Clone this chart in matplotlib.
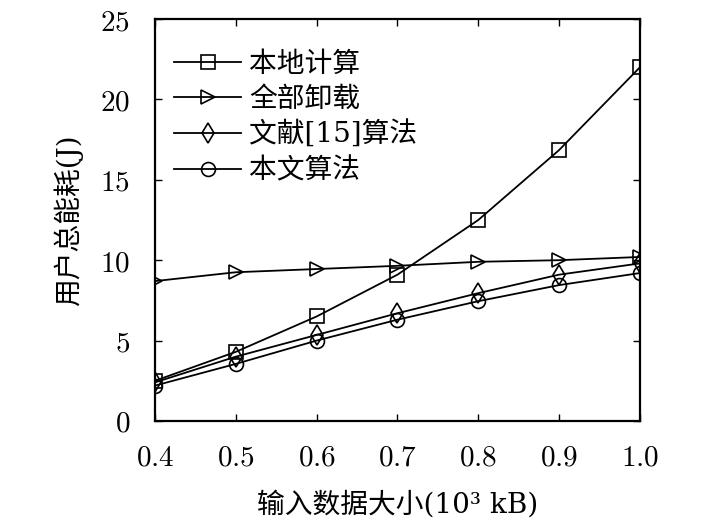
import numpy as np
import matplotlib
matplotlib.use('Agg')
import matplotlib.pyplot as plt

plt.rcParams['font.family'] = ['DejaVu Serif', 'Noto Sans CJK SC']
plt.rcParams['mathtext.fontset'] = 'cm'

# data
data_size = [0.4, 0.5, 0.6, 0.7, 0.8, 0.9, 1.0]
local_energy = [2.5, 4.3, 6.5, 9.1, 12.5, 16.85, 22.0]
offload_energy = [8.7, 9.25, 9.45, 9.65, 9.9, 10.0, 10.2]
ref15_energy = [2.4, 4.0, 5.35, 6.7, 7.95, 9.1, 9.8]
ours_energy = [2.2, 3.55, 5.0, 6.3, 7.45, 8.45, 9.2]

series_names = ['本地计算', '全部卸载', '文献[15]算法', '本文算法']
x_ticks = [0.4, 0.5, 0.6, 0.7, 0.8, 0.9, 1.0]
y_ticks = [0, 5, 10, 15, 20, 25]

fig = plt.figure(figsize=(7.09, 5.28), dpi=100)
ax = fig.add_axes([0.2186, 0.2027, 0.684, 0.7613])

markers = ['s', '>', 'd', 'o']
all_series = [local_energy, offload_energy, ref15_energy, ours_energy]
for ys, m, name in zip(all_series, markers, series_names):
    ax.plot(data_size, ys, color='black', lw=1.3, marker=m, markersize=10,
            markerfacecolor='none', markeredgecolor='black', markeredgewidth=1.2,
            label=name)

ax.set_xlim(0.4, 1.0)
ax.set_ylim(0, 25)
ax.set_xticks(x_ticks)
ax.set_yticks(y_ticks)
ax.set_xticklabels(['$%.1f$' % v for v in x_ticks], fontsize=21)
ax.set_yticklabels(['$%d$' % v for v in y_ticks], fontsize=21)
ax.tick_params(direction='in', top=True, right=True, length=5, width=1)
ax.tick_params(axis='x', pad=16)
ax.tick_params(axis='y', pad=18)
for sp in ax.spines.values():
    sp.set_linewidth(1.6)

ax.set_xlabel('输入数据大小(10³ kB)', fontsize=20, labelpad=14)
ax.set_ylabel('用户总能耗(J)', fontsize=20, labelpad=12)

leg = ax.legend(loc='upper left', frameon=False, fontsize=20, handlelength=2.4,
                handletextpad=0.3, labelspacing=0.3, borderaxespad=0.3,
                bbox_to_anchor=(0.0, 0.97))

fig.savefig('out.png', dpi=100)
